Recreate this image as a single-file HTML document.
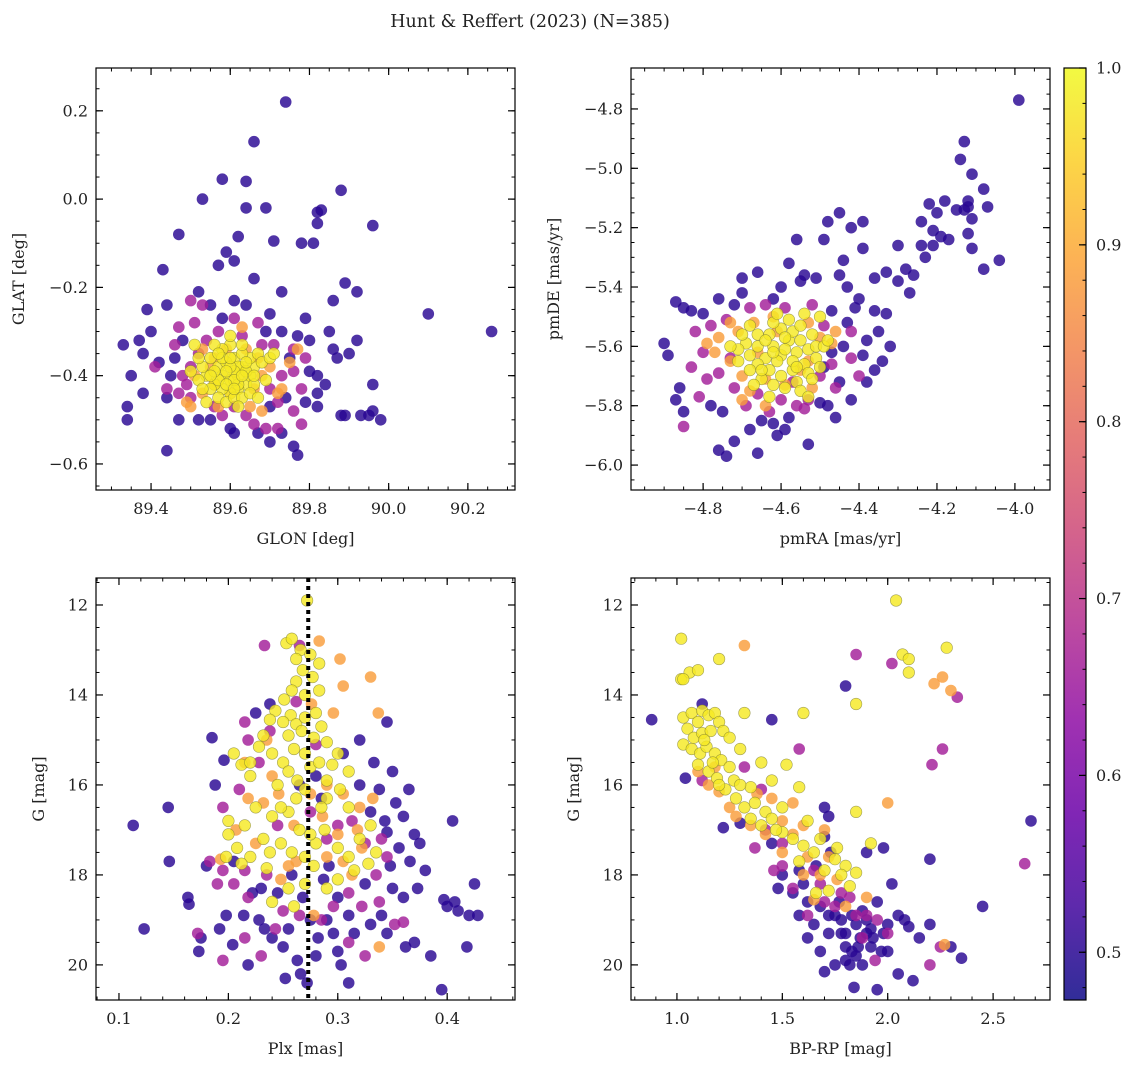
<!DOCTYPE html>
<html><head><meta charset="utf-8">
<style>
html,body{margin:0;padding:0;background:#fff;}
svg{display:block;font-family:"DejaVu Serif","Liberation Serif",serif;}
</style></head>
<body>
<svg id="fig" width="1136" height="1067" viewBox="0 0 1136 1067">
<text x="530" y="27" text-anchor="middle" font-size="17.5" fill="#222">Hunt &amp; Reffert (2023) (N=385)</text>
</svg>
<script>
const groupProb = [0.5, 0.66, 0.88, 0.98];
const tlDark = [[89.74,0.22],[89.66,0.13],[89.58,0.045],[89.64,0.04],[89.53,0.0],[89.88,0.02],[89.47,-0.08],[89.62,-0.085],[89.71,-0.095],[89.64,-0.02],[89.69,-0.02],[89.82,-0.03],[89.83,-0.025],[89.96,-0.06],[89.82,-0.055],[89.78,-0.1],[89.81,-0.1],[89.59,-0.12],[89.57,-0.15],[89.61,-0.14],[89.66,-0.18],[89.43,-0.16],[89.39,-0.25],[89.52,-0.21],[89.55,-0.24],[89.61,-0.23],[89.73,-0.21],[89.86,-0.23],[89.89,-0.19],[89.92,-0.21],[89.64,-0.24],[89.79,-0.27],[89.70,-0.26],[90.10,-0.26],[90.26,-0.30],[89.33,-0.33],[89.37,-0.32],[89.44,-0.24],[89.38,-0.35],[89.48,-0.32],[89.35,-0.40],[89.34,-0.47],[89.34,-0.50],[89.38,-0.44],[89.42,-0.37],[89.45,-0.40],[89.44,-0.45],[89.44,-0.57],[89.52,-0.5],[89.55,-0.5],[89.60,-0.52],[89.61,-0.53],[89.67,-0.53],[89.70,-0.55],[89.73,-0.53],[89.76,-0.56],[89.77,-0.58],[89.79,-0.46],[89.82,-0.47],[89.88,-0.49],[89.89,-0.49],[89.93,-0.49],[89.96,-0.48],[89.95,-0.49],[89.98,-0.50],[89.96,-0.42],[89.90,-0.35],[89.87,-0.36],[89.92,-0.32],[89.85,-0.30],[89.80,-0.32],[89.77,-0.31],[89.73,-0.3],[89.75,-0.36],[89.80,-0.39],[89.82,-0.40],[89.82,-0.44],[89.74,-0.45],[89.70,-0.47],[89.46,-0.36],[89.40,-0.30],[89.47,-0.50],[89.58,-0.27],[89.69,-0.30],[89.84,-0.42],[89.86,-0.34]];
const tlMid = [[89.50,-0.23],[89.51,-0.28],[89.47,-0.29],[89.41,-0.38],[89.44,-0.43],[89.47,-0.44],[89.50,-0.45],[89.49,-0.42],[89.56,-0.47],[89.58,-0.49],[89.61,-0.47],[89.64,-0.49],[89.66,-0.51],[89.69,-0.52],[89.72,-0.52],[89.76,-0.48],[89.78,-0.51],[89.78,-0.43],[89.76,-0.39],[89.79,-0.36],[89.76,-0.34],[89.67,-0.28],[89.61,-0.27],[89.57,-0.30],[89.54,-0.32],[89.63,-0.31],[89.68,-0.33],[89.71,-0.33],[89.73,-0.40],[89.70,-0.43],[89.52,-0.35],[89.50,-0.38],[89.46,-0.33],[89.72,-0.46],[89.53,-0.24],[89.48,-0.40]];
const tlOrange = [[89.53,-0.34],[89.56,-0.36],[89.59,-0.34],[89.64,-0.34],[89.67,-0.36],[89.68,-0.40],[89.66,-0.43],[89.68,-0.48],[89.73,-0.43],[89.75,-0.37],[89.77,-0.34],[89.50,-0.47],[89.49,-0.46],[89.56,-0.42],[89.53,-0.44],[89.60,-0.44],[89.55,-0.38],[89.70,-0.38],[89.51,-0.40],[89.63,-0.29],[89.72,-0.44],[89.57,-0.47],[89.65,-0.47]];
const tlYellow = [[89.55,-0.36],[89.57,-0.38],[89.58,-0.40],[89.60,-0.41],[89.62,-0.40],[89.63,-0.38],[89.61,-0.36],[89.59,-0.37],[89.64,-0.42],[89.62,-0.43],[89.60,-0.44],[89.58,-0.43],[89.56,-0.42],[89.54,-0.40],[89.53,-0.38],[89.52,-0.36],[89.52,-0.41],[89.50,-0.39],[89.57,-0.45],[89.59,-0.46],[89.61,-0.45],[89.63,-0.45],[89.65,-0.40],[89.66,-0.38],[89.65,-0.36],[89.67,-0.35],[89.63,-0.35],[89.60,-0.33],[89.58,-0.34],[89.56,-0.33],[89.62,-0.38],[89.61,-0.39],[89.60,-0.38],[89.59,-0.39],[89.64,-0.39],[89.57,-0.41],[89.55,-0.43],[89.66,-0.42],[89.68,-0.37],[89.70,-0.36],[89.69,-0.41],[89.62,-0.42],[89.58,-0.36],[89.53,-0.43],[89.54,-0.46],[89.60,-0.31],[89.63,-0.33],[89.65,-0.44],[89.67,-0.45],[89.71,-0.35],[89.61,-0.41],[89.59,-0.42],[89.63,-0.40],[89.56,-0.39],[89.51,-0.33],[89.62,-0.47],[89.60,-0.36],[89.64,-0.37],[89.57,-0.35],[89.55,-0.40],[89.66,-0.40],[89.61,-0.43]];

const trDark = [[-3.99,-4.77],[-4.13,-4.91],[-4.14,-4.97],[-4.11,-5.02],[-4.08,-5.07],[-4.12,-5.11],[-4.12,-5.13],[-4.13,-5.14],[-4.15,-5.14],[-4.07,-5.13],[-4.11,-5.17],[-4.18,-5.11],[-4.22,-5.12],[-4.20,-5.15],[-4.24,-5.18],[-4.21,-5.21],[-4.19,-5.23],[-4.17,-5.24],[-4.12,-5.22],[-4.11,-5.27],[-4.04,-5.31],[-4.08,-5.34],[-4.21,-5.26],[-4.24,-5.26],[-4.30,-5.26],[-4.23,-5.30],[-4.26,-5.36],[-4.28,-5.34],[-4.27,-5.42],[-4.30,-5.38],[-4.33,-5.35],[-4.36,-5.37],[-4.39,-5.27],[-4.42,-5.20],[-4.39,-5.18],[-4.45,-5.15],[-4.48,-5.18],[-4.49,-5.24],[-4.56,-5.24],[-4.54,-5.36],[-4.51,-5.37],[-4.44,-5.31],[-4.45,-5.36],[-4.43,-5.40],[-4.40,-5.44],[-4.41,-5.47],[-4.36,-5.48],[-4.33,-5.49],[-4.35,-5.55],[-4.38,-5.58],[-4.32,-5.60],[-4.34,-5.65],[-4.36,-5.68],[-4.44,-5.60],[-4.47,-5.62],[-4.49,-5.67],[-4.45,-5.72],[-4.50,-5.79],[-4.48,-5.80],[-4.42,-5.78],[-4.46,-5.84],[-4.53,-5.93],[-4.58,-5.84],[-4.59,-5.88],[-4.62,-5.86],[-4.65,-5.85],[-4.68,-5.88],[-4.72,-5.92],[-4.76,-5.95],[-4.75,-5.82],[-4.78,-5.80],[-4.85,-5.82],[-4.86,-5.74],[-4.87,-5.78],[-4.90,-5.59],[-4.89,-5.63],[-4.87,-5.45],[-4.85,-5.47],[-4.83,-5.48],[-4.80,-5.49],[-4.76,-5.44],[-4.70,-5.37],[-4.66,-5.35],[-4.60,-5.40],[-4.62,-5.44],[-4.72,-5.46],[-4.58,-5.32],[-4.55,-5.38],[-4.74,-5.97],[-4.66,-5.96],[-4.61,-5.90],[-4.47,-5.48],[-4.43,-5.52],[-4.39,-5.63],[-4.70,-5.42],[-4.38,-5.72]];
const trMid = [[-4.85,-5.87],[-4.83,-5.67],[-4.80,-5.62],[-4.82,-5.55],[-4.78,-5.53],[-4.74,-5.51],[-4.68,-5.47],[-4.64,-5.46],[-4.52,-5.46],[-4.49,-5.53],[-4.42,-5.55],[-4.42,-5.64],[-4.40,-5.70],[-4.46,-5.74],[-4.50,-5.70],[-4.53,-5.78],[-4.56,-5.80],[-4.60,-5.78],[-4.66,-5.76],[-4.72,-5.74],[-4.76,-5.69],[-4.79,-5.71],[-4.73,-5.64],[-4.57,-5.72],[-4.63,-5.82],[-4.69,-5.80],[-4.81,-5.77],[-4.54,-5.81],[-4.47,-5.66],[-4.59,-5.47]];
const trOrange = [[-4.76,-5.57],[-4.71,-5.55],[-4.73,-5.65],[-4.70,-5.70],[-4.67,-5.52],[-4.62,-5.50],[-4.53,-5.52],[-4.50,-5.57],[-4.47,-5.59],[-4.53,-5.65],[-4.55,-5.68],[-4.59,-5.73],[-4.64,-5.71],[-4.61,-5.55],[-4.79,-5.59],[-4.66,-5.62],[-4.70,-5.78],[-4.52,-5.74],[-4.77,-5.62],[-4.68,-5.75],[-4.46,-5.55],[-4.64,-5.80],[-4.73,-5.52]];
const trYellow = [[-4.60,-5.63],[-4.62,-5.60],[-4.58,-5.58],[-4.56,-5.62],[-4.64,-5.64],[-4.66,-5.60],[-4.63,-5.56],[-4.60,-5.54],[-4.57,-5.55],[-4.55,-5.58],[-4.53,-5.61],[-4.54,-5.66],[-4.57,-5.68],[-4.60,-5.70],[-4.63,-5.68],[-4.66,-5.66],[-4.68,-5.63],[-4.69,-5.59],[-4.66,-5.56],[-4.62,-5.52],[-4.58,-5.51],[-4.55,-5.53],[-4.52,-5.56],[-4.51,-5.60],[-4.51,-5.64],[-4.53,-5.69],[-4.56,-5.72],[-4.59,-5.74],[-4.62,-5.73],[-4.65,-5.71],[-4.68,-5.68],[-4.71,-5.65],[-4.71,-5.61],[-4.61,-5.65],[-4.59,-5.61],[-4.64,-5.58],[-4.57,-5.65],[-4.55,-5.75],[-4.53,-5.77],[-4.52,-5.71],[-4.50,-5.67],[-4.49,-5.60],[-4.50,-5.50],[-4.54,-5.49],[-4.48,-5.58],[-4.67,-5.73],[-4.63,-5.77],[-4.61,-5.49],[-4.70,-5.56],[-4.73,-5.60],[-4.68,-5.53],[-4.56,-5.67],[-4.62,-5.62],[-4.59,-5.57],[-4.65,-5.68]];

const blDark = [[0.113,16.9],[0.123,19.2],[0.145,16.5],[0.146,17.7],[0.163,18.5],[0.164,18.65],[0.173,19.7],[0.175,19.4],[0.185,14.95],[0.196,15.45],[0.188,16.0],[0.198,18.9],[0.204,19.55],[0.214,18.9],[0.218,20.0],[0.225,14.4],[0.23,18.3],[0.24,19.4],[0.25,19.6],[0.238,14.2],[0.245,18.4],[0.255,19.2],[0.263,19.9],[0.266,20.2],[0.272,20.4],[0.28,19.8],[0.275,19.0],[0.287,18.1],[0.29,19.0],[0.296,19.3],[0.303,20.0],[0.31,20.4],[0.292,17.8],[0.305,15.3],[0.32,15.0],[0.333,15.5],[0.345,14.6],[0.35,15.7],[0.353,16.4],[0.365,16.1],[0.36,16.7],[0.37,17.1],[0.345,17.05],[0.356,17.4],[0.366,17.7],[0.375,17.3],[0.38,17.9],[0.373,18.3],[0.36,18.5],[0.35,18.3],[0.34,18.9],[0.362,19.6],[0.37,19.5],[0.385,19.8],[0.395,20.55],[0.397,18.55],[0.4,18.7],[0.407,18.6],[0.41,18.8],[0.418,19.6],[0.42,18.9],[0.425,18.2],[0.428,18.9],[0.405,16.8],[0.348,17.8],[0.325,18.2],[0.315,19.3],[0.3,18.5],[0.258,18.0],[0.233,19.2],[0.205,17.7],[0.18,17.8],[0.252,20.3],[0.32,16.0],[0.338,16.1],[0.28,15.8],[0.265,16.0],[0.222,18.4],[0.268,18.5],[0.282,19.4],[0.31,18.9],[0.33,19.1],[0.345,19.3],[0.228,19.0],[0.192,19.2],[0.3,19.7],[0.285,16.3],[0.33,16.6],[0.343,16.8]];
const blMid = [[0.233,12.9],[0.265,12.9],[0.238,14.8],[0.218,15.0],[0.228,15.5],[0.195,16.5],[0.21,16.1],[0.245,16.9],[0.275,16.6],[0.3,16.9],[0.313,16.8],[0.325,17.3],[0.34,17.2],[0.345,17.6],[0.335,18.0],[0.31,18.4],[0.296,18.7],[0.285,19.0],[0.265,18.9],[0.243,19.2],[0.218,18.5],[0.205,18.2],[0.19,18.2],[0.183,17.7],[0.195,17.9],[0.215,19.4],[0.23,19.8],[0.195,19.9],[0.172,19.3],[0.31,19.5],[0.325,19.8],[0.338,18.6],[0.352,19.1],[0.36,19.05],[0.262,14.15],[0.215,14.6],[0.28,15.1],[0.25,18.8],[0.322,18.7],[0.215,17.9],[0.29,17.2],[0.235,18.0]];
const blOrange = [[0.283,12.8],[0.302,13.2],[0.33,13.6],[0.337,14.4],[0.305,13.8],[0.276,14.2],[0.235,15.0],[0.215,15.5],[0.246,16.2],[0.232,16.4],[0.26,16.9],[0.286,16.7],[0.305,16.2],[0.32,16.5],[0.332,16.3],[0.318,17.0],[0.305,17.7],[0.29,17.6],[0.255,17.8],[0.225,17.3],[0.207,17.0],[0.193,17.65],[0.248,18.1],[0.262,17.7],[0.3,17.1],[0.278,18.9],[0.338,19.6],[0.322,17.4],[0.29,16.0],[0.24,15.8],[0.275,16.2],[0.313,18.0],[0.218,16.3],[0.296,14.4]];
const blYellow = [[0.272,11.9],[0.253,12.85],[0.258,12.75],[0.266,13.0],[0.262,13.2],[0.275,13.1],[0.283,13.3],[0.268,13.45],[0.277,13.6],[0.262,13.7],[0.258,13.9],[0.251,14.1],[0.243,14.35],[0.238,14.55],[0.257,14.45],[0.262,14.65],[0.255,14.9],[0.27,14.5],[0.28,14.4],[0.285,14.7],[0.278,14.95],[0.29,15.05],[0.232,14.9],[0.228,15.15],[0.205,15.3],[0.212,15.55],[0.22,15.8],[0.24,15.3],[0.25,15.5],[0.255,15.7],[0.263,15.9],[0.27,15.3],[0.275,15.6],[0.283,15.5],[0.29,15.9],[0.295,15.55],[0.3,15.3],[0.302,16.1],[0.29,16.3],[0.27,16.1],[0.262,16.3],[0.255,16.6],[0.24,16.7],[0.225,16.5],[0.215,16.9],[0.2,16.8],[0.2,17.1],[0.208,17.4],[0.22,17.6],[0.232,17.2],[0.248,17.3],[0.258,17.5],[0.265,17.0],[0.27,17.6],[0.28,17.3],[0.288,17.0],[0.3,17.4],[0.31,17.6],[0.32,17.2],[0.33,16.9],[0.315,17.9],[0.3,18.1],[0.29,18.3],[0.27,18.2],[0.255,18.3],[0.24,18.6],[0.26,18.7],[0.278,17.8],[0.235,17.85],[0.198,17.6],[0.212,17.75],[0.328,17.75],[0.335,17.5],[0.245,16.0],[0.31,15.7],[0.27,14.0],[0.283,13.9],[0.25,14.6],[0.267,14.8],[0.22,15.5],[0.26,15.2],[0.285,16.5],[0.248,16.5],[0.238,17.5],[0.275,17.1],[0.31,16.5]];

const brDark = [[0.88,14.55],[1.04,15.85],[1.12,14.2],[1.22,16.95],[1.3,16.85],[1.45,14.55],[1.45,17.3],[1.5,18.0],[1.48,18.3],[1.55,18.4],[1.58,18.9],[1.62,19.4],[1.65,19.1],[1.68,19.7],[1.7,20.15],[1.7,16.5],[1.72,16.7],[1.7,17.15],[1.73,17.5],[1.75,18.9],[1.78,19.3],[1.8,19.6],[1.82,20.0],[1.84,20.5],[1.85,19.8],[1.88,20.0],[1.9,19.3],[1.92,19.2],[1.95,20.55],[1.97,19.7],[2.0,19.1],[2.05,18.9],[2.08,19.0],[2.1,19.15],[2.12,20.35],[2.15,19.4],[2.2,19.1],[2.3,19.6],[2.35,19.85],[2.45,18.7],[2.2,17.65],[2.68,16.8],[1.8,13.8],[1.98,17.4],[1.9,17.5],[1.78,19.0],[1.88,18.8],[1.72,19.3],[1.95,18.6],[2.02,18.2],[1.66,17.8],[1.83,19.7],[1.92,19.6],[1.85,19.1],[2.05,20.2],[1.6,18.2],[1.75,20.0],[2.0,19.7],[1.8,19.3],[1.83,18.9],[1.87,19.4],[1.9,19.0],[1.77,18.6],[1.72,18.9],[1.93,19.4],[1.98,19.3],[1.68,18.7],[1.62,18.6],[1.8,19.9],[1.86,19.6],[1.58,17.9]];
const brMid = [[2.02,13.3],[2.33,14.05],[2.26,15.2],[2.21,15.55],[1.12,15.9],[1.32,15.6],[1.4,16.1],[1.5,17.3],[1.65,17.9],[1.7,18.6],[1.85,13.1],[1.75,18.7],[1.85,18.9],[1.95,19.0],[2.0,19.3],[2.25,19.6],[2.2,20.0],[1.55,18.3],[1.46,17.9],[1.37,17.4],[1.58,15.2],[1.78,18.4],[1.88,19.4],[1.94,19.9],[2.65,17.75],[1.62,18.9],[1.5,17.8],[1.82,18.5],[1.68,18.2],[1.9,18.9],[1.42,17.0]];
const brOrange = [[1.32,12.9],[2.26,13.6],[2.22,13.75],[2.3,13.9],[1.1,15.7],[1.15,16.0],[1.2,16.15],[1.28,16.7],[1.38,16.2],[1.45,16.3],[1.55,16.4],[1.5,16.8],[1.6,16.9],[1.7,17.0],[1.62,17.6],[1.72,17.6],[1.76,18.1],[1.6,18.0],[1.5,17.5],[1.8,18.7],[1.9,18.5],[2.27,19.55],[2.0,16.4],[1.65,18.55],[1.42,17.1],[1.25,16.5],[1.35,16.9],[1.18,15.6],[1.55,17.1],[1.68,18.0]];
const brYellow = [[2.04,11.9],[1.02,12.75],[1.02,13.65],[1.06,13.5],[1.1,13.45],[1.03,13.65],[1.2,13.2],[2.07,13.1],[2.1,13.2],[2.28,12.95],[2.1,13.5],[1.03,14.5],[1.07,14.4],[1.1,14.6],[1.12,14.35],[1.15,14.45],[1.18,14.4],[1.2,14.6],[1.05,14.75],[1.08,14.95],[1.12,14.85],[1.16,14.8],[1.22,14.8],[1.25,14.95],[1.03,15.1],[1.07,15.2],[1.11,15.3],[1.14,15.15],[1.18,15.3],[1.21,15.45],[1.25,15.6],[1.1,15.55],[1.15,15.7],[1.19,15.85],[1.27,15.9],[1.32,14.4],[1.35,16.05],[1.4,15.5],[1.23,16.1],[1.28,16.3],[1.32,16.5],[1.37,16.4],[1.42,16.6],[1.45,16.75],[1.4,16.9],[1.35,16.75],[1.5,17.05],[1.55,17.2],[1.6,17.35],[1.65,17.5],[1.6,14.4],[1.85,14.2],[1.58,17.7],[1.7,17.9],[1.75,17.65],[1.8,17.8],[1.85,17.95],[1.82,18.25],[1.72,18.35],[1.66,18.4],[1.92,17.3],[1.85,16.6],[1.58,16.05],[1.45,15.9],[1.5,16.5],[1.3,15.2],[1.2,16.0],[1.62,16.8],[1.68,17.2],[1.78,18.0],[1.76,17.4],[1.52,15.55],[1.13,15.0],[1.17,15.5],[1.3,16.0],[1.47,17.0]];

const tlXTicks = [89.4,89.6,89.8,90.0,90.2];
const tlYTicks = [0.2,0.0,-0.2,-0.4,-0.6];
const trXTicks = [-4.8,-4.6,-4.4,-4.2,-4.0];
const trYTicks = [-4.8,-5.0,-5.2,-5.4,-5.6,-5.8,-6.0];
const blXTicks = [0.1,0.2,0.3,0.4];
const gTicks = [12,14,16,18,20];
const brXTicks = [1.0,1.5,2.0,2.5];
const cbTicks = [0.5,0.6,0.7,0.8,0.9,1.0];
const plxLine = 0.273;

const NS = 'http://www.w3.org/2000/svg';
const svg = document.getElementById('fig');
function mk(tag, attrs, parent){const e=document.createElementNS(NS,tag);for(const k in attrs)e.setAttribute(k,attrs[k]);(parent||svg).appendChild(e);return e;}
const plasma=[[13,8,135],[65,4,157],[106,0,168],[143,13,164],[177,42,144],[204,71,120],[225,100,98],[242,132,75],[252,166,54],[252,206,37],[240,249,33]];
const cMin=0.473,cMax=1.0;
function cmap(p){let t=(p-cMin)/(cMax-cMin);t=Math.max(0,Math.min(1,t))*10;const i=Math.min(9,Math.floor(t)),f=t-i;const a=plasma[i],b=plasma[i+1];return `rgb(${Math.round(a[0]+(b[0]-a[0])*f)},${Math.round(a[1]+(b[1]-a[1])*f)},${Math.round(a[2]+(b[2]-a[2])*f)})`;}
function fmt(v,d){const s=v.toFixed(d);return s.startsWith('-')?'\u2212'+s.slice(1):s;}

function panel(cfg){
  const {name,L,T,R,B,x0,x1,y0,y1,xTicks,yTicks,xMinor,yMinor,xDec,yDec,xLabel,yLabel,groups}=cfg;
  const sx=v=>L+(v-x0)/(x1-x0)*(R-L);
  const sy=v=>T+(v-y0)/(y1-y0)*(B-T);
  const g=mk('g',{});
  
  
  const cid='clip-'+name;
  const cp=mk('clipPath',{id:cid},g);mk('rect',{x:L,y:T,width:R-L,height:B-T},cp);
  const pts=mk('g',{'clip-path':`url(#${cid})`},g);
  
  
  groups.forEach((arr,gi)=>{
    const p=groupProb[gi];
    arr.forEach(d=>{
      const c=mk('circle',{cx:sx(d[0]).toFixed(1),cy:sy(d[1]).toFixed(1),r:5.8,fill:cmap(p),'fill-opacity':0.82,stroke:gi===3?'#7a7a30':'none','stroke-width':0.6,'stroke-opacity':0.7},pts);
      
      
    });
  });
  if(cfg.extra) cfg.extra(g,sx,sy);
  const fr=mk('rect',{x:L,y:T,width:R-L,height:B-T,fill:'none',stroke:'#000','stroke-width':1.2},g);
  
  
  const lo=Math.min(x0,x1),hi=Math.max(x0,x1);
  for(let v=Math.ceil(lo/xMinor-1e-6)*xMinor;v<=hi+1e-9;v+=xMinor){const x=sx(v);mk('line',{x1:x,x2:x,y1:B,y2:B-3.5,stroke:'#000','stroke-width':1},g);mk('line',{x1:x,x2:x,y1:T,y2:T+3.5,stroke:'#000','stroke-width':1},g);}
  const ylo=Math.min(y0,y1),yhi=Math.max(y0,y1);
  for(let v=Math.ceil(ylo/yMinor-1e-6)*yMinor;v<=yhi+1e-9;v+=yMinor){const y=sy(v);mk('line',{x1:L,x2:L+3.5,y1:y,y2:y,stroke:'#000','stroke-width':1},g);mk('line',{x1:R,x2:R-3.5,y1:y,y2:y,stroke:'#000','stroke-width':1},g);}
  xTicks.forEach(v=>{const x=sx(v);mk('line',{x1:x,x2:x,y1:B,y2:B-7,stroke:'#000','stroke-width':1.2},g);mk('line',{x1:x,x2:x,y1:T,y2:T+7,stroke:'#000','stroke-width':1.2},g);
    const t=mk('text',{x:x,y:B+24,'text-anchor':'middle','font-size':16,fill:'#222'},g);t.textContent=fmt(v,xDec);
    
    });
  yTicks.forEach(v=>{const y=sy(v);mk('line',{x1:L,x2:L+7,y1:y,y2:y,stroke:'#000','stroke-width':1.2},g);mk('line',{x1:R,x2:R-7,y1:y,y2:y,stroke:'#000','stroke-width':1.2},g);
    const t=mk('text',{x:L-8,y:y+5.5,'text-anchor':'end','font-size':16,fill:'#222'},g);t.textContent=fmt(v,yDec);
    
    });
  const xl=mk('text',{x:(L+R)/2,y:B+54,'text-anchor':'middle','font-size':16,fill:'#222'},g);xl.textContent=xLabel;
  
  
  const yx=cfg.yLabelX,yy=(T+B)/2;
  const yl=mk('text',{x:yx,y:yy,'text-anchor':'middle','font-size':16,fill:'#222',transform:`rotate(-90 ${yx} ${yy})`},g);yl.textContent=yLabel;
  
  
}

panel({name:'glon-glat',L:96,T:68,R:515,B:490,x0:89.261,x1:90.319,y0:0.297,y1:-0.659,xTicks:tlXTicks,yTicks:tlYTicks,xMinor:0.05,yMinor:0.05,xDec:1,yDec:1,xLabel:'GLON [deg]',yLabel:'GLAT [deg]',yLabelX:24,groups:[tlDark,tlMid,tlOrange,tlYellow]});
panel({name:'pmra-pmde',L:631,T:68,R:1050,B:490,x0:-4.985,x1:-3.910,y0:-4.662,y1:-6.084,xTicks:trXTicks,yTicks:trYTicks,xMinor:0.05,yMinor:0.05,xDec:1,yDec:1,xLabel:'pmRA [mas/yr]',yLabel:'pmDE [mas/yr]',yLabelX:559,groups:[trDark,trMid,trOrange,trYellow]});
panel({name:'plx-g',L:96,T:578,R:515,B:1000,x0:0.079,x1:0.462,y0:11.4,y1:20.78,xTicks:blXTicks,yTicks:gTicks,xMinor:0.02,yMinor:0.5,xDec:1,yDec:0,xLabel:'Plx [mas]',yLabel:'G [mag]',yLabelX:44,groups:[blDark,blMid,blOrange,blYellow],
  extra:(g,sx,sy)=>{const x=sx(plxLine);const l=mk('line',{x1:x,x2:x,y1:578,y2:1000,stroke:'#000','stroke-width':4,'stroke-dasharray':'4 4'},g);
    
    }});
panel({name:'color-magnitude',L:631,T:578,R:1050,B:1000,x0:0.782,x1:2.77,y0:11.4,y1:20.78,xTicks:brXTicks,yTicks:gTicks,xMinor:0.1,yMinor:0.5,xDec:1,yDec:0,xLabel:'BP-RP [mag]',yLabel:'G [mag]',yLabelX:579,groups:[brDark,brMid,brOrange,brYellow]});

(function(){
  const L=1064,R=1086,T=68,B=1000;
  const g=mk('g',{});
  
  
  const defs=mk('defs',{},g);
  const lg=mk('linearGradient',{id:'cbgrad',x1:0,y1:1,x2:0,y2:0},defs);
  plasma.forEach((c,i)=>mk('stop',{offset:(i/10),'stop-color':`rgb(${c[0]},${c[1]},${c[2]})`,'stop-opacity':0.85},lg));
  mk('rect',{x:L,y:T,width:R-L,height:B-T,fill:'url(#cbgrad)',stroke:'#000','stroke-width':1.2},g);
  const sy=v=>B-(v-cMin)/(cMax-cMin)*(B-T);
  for(let v=0.48;v<=1.0001;v+=0.02){const y=sy(v);mk('line',{x1:R,x2:R-3.5,y1:y,y2:y,stroke:'#000','stroke-width':1},g);}
  cbTicks.forEach(v=>{const y=sy(v);mk('line',{x1:R,x2:R-7,y1:y,y2:y,stroke:'#000','stroke-width':1.2},g);
    const t=mk('text',{x:R+10,y:y+5.5,'font-size':16,fill:'#222'},g);t.textContent=v.toFixed(1);
    
    });
})();
</script>
</body></html>
